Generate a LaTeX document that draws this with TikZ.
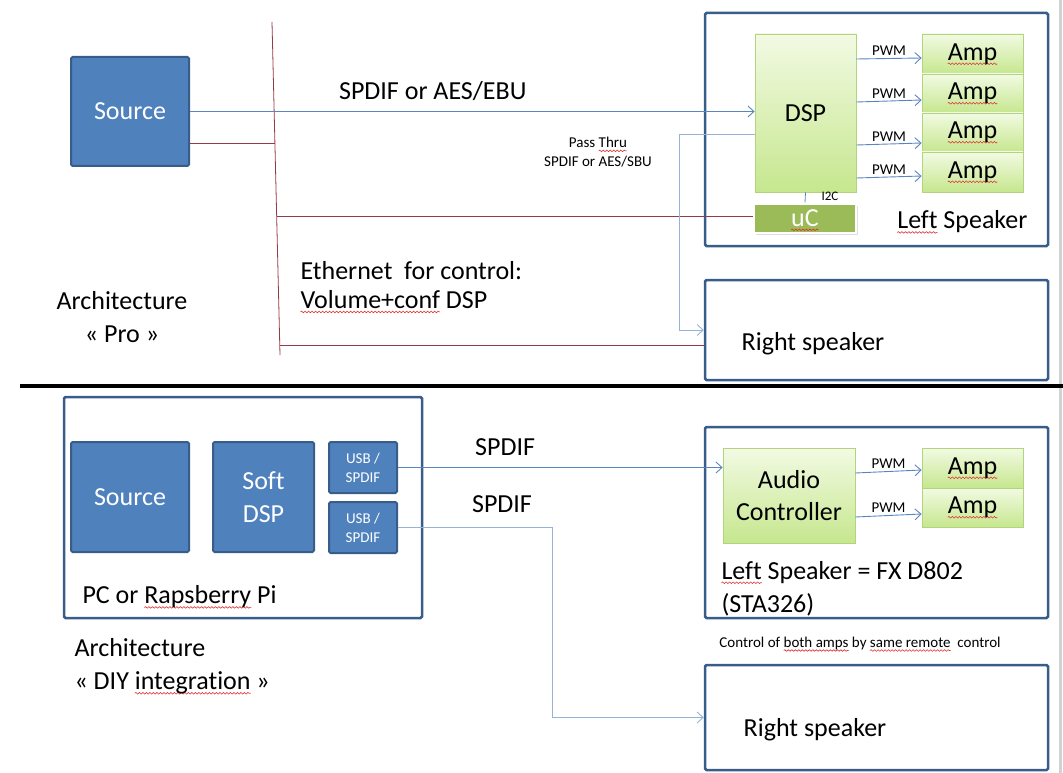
\documentclass[tikz,border=0pt]{standalone}
\usepackage{fontspec}
\setmainfont{Carlito}[Ligatures=NoCommon]
\usetikzlibrary{arrows.meta, calc, shadows, decorations.pathmorphing}
\definecolor{boxblue}{HTML}{4F81BD}
\definecolor{boxedge}{HTML}{385D8A}
\definecolor{sigblue}{HTML}{5B85C0}
\definecolor{passblue}{HTML}{95B3D7}
\definecolor{ctrlred}{HTML}{943A48}
\definecolor{greentop}{HTML}{F2FAE3}
\definecolor{greenbot}{HTML}{C6E78E}
\definecolor{greenedge}{HTML}{B3D47E}
\definecolor{ucgreen}{HTML}{9BBB59}
\definecolor{spell}{HTML}{E03030}
\newlength{\squigw}
\newcommand{\squig}[1]{\settowidth{\squigw}{#1}\rlap{\tikz[overlay]
    \draw[spell, line width=0.6pt, decorate, decoration={snake, amplitude=0.8pt,
    segment length=3.5pt}] (0pt, -3.5pt) -- (\squigw, -3.5pt);}#1}
\tikzset{
    x=1pt, y=-1pt,
    big/.style={font=\fontsize{26}{30}\selectfont},
    small/.style={font=\fontsize{15}{19}\selectfont},
    bluebox/.style={draw=boxedge, fill=boxblue, line width=2pt,
        rounded corners=1.5pt, text=white, big, align=center, inner sep=0pt},
    greenbox/.style={draw=greenedge, top color=greentop, bottom color=greenbot,
        line width=0.8pt, big, align=center, inner sep=0pt},
    spkbox/.style={draw=boxedge, line width=2.5pt, rounded corners=1.5pt,
        inner sep=0pt},
    sig/.style={draw=sigblue, line width=0.9pt,
        -{Straight Barb[length=6pt, width=11pt]}},
    pass/.style={sig, draw=passblue},
    ctrl/.style={draw=ctrlred, line width=0.8pt},
}
\begin{document}
\begin{tikzpicture}
    \useasboundingbox (0, 0) rectangle (1063, 773);
    \draw[gray!35, line width=3pt] (1060, 0) -- (1060, 773);
    % Architecture Pro
    \node[bluebox, minimum width=118pt, minimum height=109pt] (src) at (130, 111.5)
        {Source};
    \node[spkbox, minimum width=343pt, minimum height=233pt] (lspk) at (876.5, 129.5) {};
    \node[greenbox, minimum width=101pt, minimum height=158pt] (dsp) at (805.5, 113)
        {DSP};
    \foreach \i/\y/\h in {1/54/40, 2/93.5/39, 3/132.5/39, 4/172/40}
        \node[greenbox, minimum width=101pt, minimum height=\h pt] (amp\i)
            at (972.5, \y) {\squig{Amp}};
    \node[fill=ucgreen, draw=white, line width=2pt, drop shadow={opacity=.25},
        minimum width=102pt, minimum height=29pt, inner sep=0pt, text=white, big]
        (uc) at (805, 218) {\squig{uC}};
    \node[big, anchor=east] (lspklabel) at (1031, 222) {\squig{Left} Speaker};
    \node[spkbox, minimum width=343pt, minimum height=100pt] (rspk) at (876.5, 330) {};
    \node[big] (rspklabel) at (813, 344) {Right speaker};
    \coordinate (bustop) at (272, 22);
    \coordinate (busbot) at (280, 355);
    \draw[ctrl] (bustop) -- (busbot);
    \coordinate (tapa) at ($(bustop)!0.364!(busbot)$);
    \coordinate (tapb) at ($(bustop)!0.583!(busbot)$);
    \coordinate (tapc) at ($(bustop)!0.970!(busbot)$);
    \draw[sig] (src.east) -- (src.east -| dsp.west)
        node[pos=0.43, above=7pt, big] {SPDIF or AES/EBU};
    \draw[ctrl] (src.east |- tapa) -- (tapa);
    \draw[ctrl] (tapb) -- (uc.west |- tapb);
    \draw[ctrl] (tapc) -- (rspk.west |- tapc);
    \draw[pass] ([yshift=-21pt]dsp.west) -- ++(-75, 0) |- (rspk.west);
    \node[small, align=center] (passlabel) at (598, 152)
        {Pass \squig{Thru}\\SPDIF or AES/SBU};
    \draw[sigblue, line width=0.8pt] (dsp.south) -- (uc.north);
    \node[font=\fontsize{13}{15}\selectfont] (i2c) at (830, 196) {I2C};
    \foreach \i/\s/\e in {1/54/-4, 2/11/-6.5, 3/-32/-10.5, 4/-65/-4}
        \draw[sig] ([yshift=\s pt]dsp.east) -- node[above=-1pt, small] {PWM}
            ([yshift=\e pt]amp\i.west);
    \node[big, anchor=west, align=left, font=\fontsize{26}{29}\selectfont] (eth)
        at (297, 285) {Ethernet\ \ for control:\\\squig{Volume+conf} DSP};
    \node[big, align=center, font=\fontsize{26}{33}\selectfont] (archpro)
        at (122, 317.5) {Architecture\\« Pro »};
    \draw[line width=4pt] (20, 386) -- (1063, 386);
    % Architecture DIY
    \node[spkbox, minimum width=358pt, minimum height=221pt] (pc) at (243, 507.5) {};
    \node[bluebox, minimum width=118pt, minimum height=110pt] (src2) at (130, 497)
        {Source};
    \node[bluebox, minimum width=101pt, minimum height=110pt,
        font=\fontsize{26}{33}\selectfont] (softdsp) at (263.5, 497) {Soft\\DSP};
    \node[bluebox, minimum width=68pt, minimum height=51pt, small] (usba)
        at (363, 467.5) {USB /\\SPDIF};
    \node[bluebox, minimum width=68pt, minimum height=51pt, small] (usbb)
        at (363, 527.5) {USB /\\SPDIF};
    \node[big, anchor=west] (pclabel) at (79, 597) {PC or \squig{Rapsberry} Pi};
    \node[spkbox, minimum width=343pt, minimum height=191pt] (lspk2) at (876.5, 522.5) {};
    \node[greenbox, minimum width=132pt, minimum height=95pt,
        font=\fontsize{26}{32}\selectfont] (actl) at (789, 495.5) {Audio\\Controller};
    \node[greenbox, minimum width=101pt, minimum height=40pt] (ampb1) at (972.5, 468)
        {\squig{Amp}};
    \node[greenbox, minimum width=101pt, minimum height=39pt] (ampb2) at (972.5, 507.5)
        {\squig{Amp}};
    \draw[sig] ([yshift=22.5pt]actl.east) -- node[above=-1pt, small] {PWM}
        ([yshift=-2pt]ampb1.west);
    \draw[sig] ([yshift=-21.5pt]actl.east) -- node[above=-1pt, small] {PWM}
        ([yshift=-6.5pt]ampb2.west);
    \node[anchor=west, align=left, font=\fontsize{26}{33}\selectfont] (lspk2label)
        at (718, 588.5) {\squig{Left} Speaker = FX D802\\(STA326)};
    \node[spkbox, minimum width=343pt, minimum height=105pt] (rspk2) at (876.5, 717.5) {};
    \node[big] (rspk2label) at (815, 730) {Right speaker};
    \draw[sig] (usba.east) -- (usba.east -| actl.west)
        node[pos=0.33, above=8pt, big] {SPDIF};
    \draw[pass] (usbb.east) -- ++(154, 0) |- (rspk2.west);
    \node[big] (spdiflabel) at (502, 504) {SPDIF};
    \node[small] (ctrlnote) at (860, 643)
        {Control of \squig{both amps} by \squig{same remote}\ \ control};
    \node[anchor=west, align=left, font=\fontsize{26}{33}\selectfont] (archdiy)
        at (71, 666.5) {Architecture\\« DIY \squig{integrat\kern0pt ion} »};
\end{tikzpicture}
\end{document}
